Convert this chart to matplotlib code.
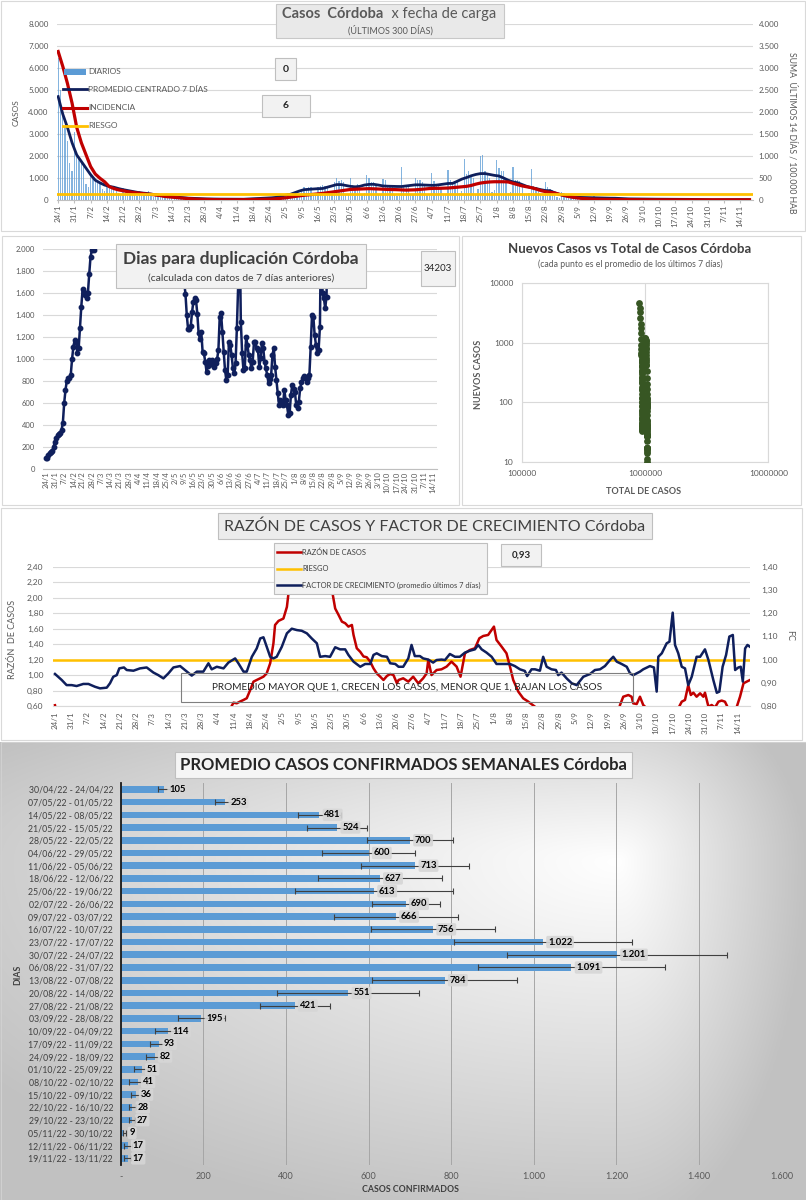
import numpy as np
import matplotlib
matplotlib.use("Agg")
import matplotlib.pyplot as plt
from matplotlib.patches import Rectangle
from matplotlib.lines import Line2D
from matplotlib.ticker import FuncFormatter, NullLocator

plt.rcParams['font.family'] = ['Lato', 'DejaVu Sans']

# ---------------- DATA ----------------
date_labels = ['24/1', '31/1', '7/2', '14/2', '21/2', '28/2', '7/3', '14/3', '21/3', '28/3',
               '4/4', '11/4', '18/4', '25/4', '2/5', '9/5', '16/5', '23/5', '30/5', '6/6',
               '13/6', '20/6', '27/6', '4/7', '11/7', '18/7', '25/7', '1/8', '8/8', '15/8',
               '22/8', '29/8', '5/9', '12/9', '19/9', '26/9', '3/10', '10/10', '17/10', '24/10',
               '31/10', '7/11', '14/11']

# daily cases (day 0 = 24/1)
daily = [6450, 5000, 3900, 3300, 2700, 1700, 1300,
         3100, 2050, 1950, 1800, 1600, 750, 600,
         1200, 950, 900, 850, 750, 500, 400,
         700, 600, 550, 500, 450, 300, 250,
         550, 450, 420, 380, 350, 250, 200,
         400, 350, 380, 300, 430, 200, 150,
         250, 230, 200, 180, 160, 100, 80,
         150, 140, 120, 110, 100, 60, 50,
         100, 90, 85, 80, 70, 40, 35,
         70, 65, 60, 55, 50, 30, 25,
         55, 50, 45, 45, 40, 25, 20,
         45, 40, 40, 35, 30, 20, 15,
         60, 70, 75, 80, 70, 35,
         45, 115, 135, 125, 140, 120, 55,
         120, 260, 300, 290, 320, 320, 160,
         250, 520, 600, 560, 600, 580, 260,
         260, 600, 640, 700, 620, 620, 230,
         300, 800, 1000, 850, 900, 800, 250,
         280, 1000, 700, 650, 750, 600, 220,
         300, 1150, 1000, 800, 800, 700, 241,
         250, 950, 900, 700, 700, 650, 239,
         200, 250, 1500, 700, 700, 650, 291,
         250, 1000, 900, 900, 800, 700, 280,
         260, 1250, 850, 700, 750, 600, 252,
         280, 1350, 900, 800, 850, 800, 312,
         400, 1850, 1200, 1300, 1150, 1000, 254,
         500, 2000, 2050, 1300, 1200, 1000, 357,
         450, 1800, 1450, 1300, 1300, 1000, 337,
         350, 1500, 900, 900, 850, 700, 288,
         250, 300, 1400, 650, 600, 450, 207,
         200, 800, 600, 500, 450, 250, 147,
         100, 350, 300, 250, 200, 100, 65,
         50, 200, 180, 150, 120, 60, 38,
         40, 170, 150, 120, 100, 40, 31,
         35, 150, 130, 110, 90, 35, 24,
         20, 90, 80, 70, 60, 20, 17,
         15, 80, 70, 50, 40, 15, 17,
         15, 20, 80, 60, 50, 15, 12,
         10, 50, 45, 40, 30, 12, 9,
         10, 50, 40, 35, 30, 15, 9,
         5, 15, 10, 10, 12, 8, 3,
         5, 30, 25, 20, 20, 12, 7,
         5, 30, 25, 20, 22, 10, 7]

# 7-day centred average, read every 2 days (days 0, 2, ..., 298)
avg_days = list(range(0, 300, 2))
avg7 = [4700, 3900, 3300, 2600, 2050, 1750, 1450, 1150, 900, 780,
        680, 620, 580, 520, 470, 430, 390, 350, 320, 300,
        270, 240, 210, 180, 160, 140, 120, 100, 85, 75,
        65, 55, 50, 45, 42, 40, 38, 36, 34, 33,
        35, 45, 55, 60, 70, 85, 100, 120, 170, 220,
        255, 330, 410, 470, 485, 500, 515, 524, 580, 640,
        700, 700, 660, 620, 600, 620, 680, 710, 713, 680,
        640, 627, 620, 615, 613, 640, 670, 690, 690, 680,
        670, 666, 690, 720, 750, 756, 850, 950, 1020, 1100,
        1160, 1200, 1201, 1160, 1120, 1091, 1000, 900, 820, 784,
        700, 620, 560, 520, 470, 430, 420, 330, 260, 200,
        170, 140, 120, 114, 105, 98, 93, 90, 86, 82,
        80, 70, 60, 51, 48, 45, 42, 41, 39, 37,
        36, 33, 30, 28, 28, 27, 27, 27, 22, 15,
        10, 9, 11, 14, 17, 17, 17, 17, 17, 17]

# incidence (sum last 14 days / 100.000 hab), same days as avg_days
incid = [3375, 3035, 2650, 2200, 1650, 1300, 1030, 760, 590, 495,
         415, 305, 260, 230, 210, 190, 175, 160, 150, 135,
         128, 115, 100, 80, 70, 60, 50, 40, 33, 25,
         18, 15, 12, 10, 8, 7, 6, 6, 6, 6,
         7, 8, 10, 12, 14, 16, 20, 28, 38, 48,
         65, 80, 95, 108, 118, 128, 138, 150, 165, 178,
         195, 210, 225, 240, 245, 250, 255, 258, 255, 250,
         245, 240, 238, 235, 230, 225, 228, 232, 240, 250,
         260, 265, 265, 268, 272, 280, 290, 300, 310, 330,
         360, 385, 400, 410, 415, 415, 415, 410, 380, 350,
         320, 300, 280, 250, 215, 190, 175, 160, 130, 105,
         80, 60, 45, 35, 28, 22, 18, 15, 13, 12,
         11, 10, 9, 8, 7, 6, 6, 5, 5, 5,
         5, 5, 5, 5, 5, 5, 4, 4, 4, 4,
         4, 4, 4, 4, 4, 4, 4, 4, 4, 4]
riesgo_incid = 130

# doubling days
dup_days1 = list(range(0, 38))
dup1 = [100, 106, 130, 145, 155, 167, 206, 251, 282, 312,
        320, 330, 360, 420, 600, 720, 803, 833, 827, 858,
        1003, 1115, 1176, 1160, 1055, 1100, 1288, 1479, 1639, 1615,
        1580, 1555, 1600, 1773, 1933, 1990, 2150, 1994]
dup_days2 = list(range(104, 215))
dup2 = [2400, 1706, 1594, 1403, 1273, 1273, 1300, 1427, 1524, 1555,
        1540, 1412, 1236, 1185, 1251, 1070, 1055, 979, 888, 940,
        994, 979, 990, 950, 933, 964, 1000, 1085, 1388, 1418,
        1251, 1070, 903, 812, 858, 1160, 1130, 1039, 918, 873,
        964, 1282, 1676, 2300, 1342, 1055, 903, 918, 1206, 1130,
        1039, 994, 918, 979, 1160, 1160, 1100, 1085, 933, 1009,
        1145, 1100, 979, 918, 858, 782, 820, 858, 1039, 1100,
        933, 812, 691, 585, 630, 600, 585, 721, 630, 585,
        494, 509, 676, 767, 730, 706, 585, 555, 615, 736,
        790, 827, 852, 842, 797, 830, 858, 1115, 1403, 1388,
        1221, 1130, 1055, 1085, 1297, 2400, 1600, 1555, 1464, 1570,
        2400]
dup_box = "34203"

# scatter: cumulative total at day 0
total_base = 893000

# razon de casos
razon_day = [0, 1, 75, 76.1, 76.9, 78.3, 79.7, 81.2, 82.6, 84.1,
             85.5, 86.9, 88.4, 89.8, 91.2, 92.7, 94.1, 94.8, 96.3, 98.4,
             99.9, 100.6, 101.3, 103, 108, 114, 118, 119.3, 120.7, 122.1,
             123.6, 125, 126.4, 127.9, 128.6, 130, 131.5, 132.9, 134.3, 135.8,
             137.2, 138.6, 140.1, 141.5, 143, 144.4, 145.8, 147.3, 148, 150,
             152.2, 154.3, 156.5, 158.6, 160.1, 160.8, 162.2, 164.4, 166.5, 168.7,
             170.8, 173, 174.7, 176.6, 178.7, 180.9, 182.8, 184.5, 186.6, 188.1,
             189.1, 190.2, 192.4, 194.5, 196, 197.4, 199.6, 201.7, 203.9, 206.8,
             208, 242, 243.4, 244.8, 247, 248.4, 249.1, 250.6, 252, 253.4,
             254.9, 256, 267, 268.5, 270, 271.4, 272.8, 273.9, 275, 276.4,
             277.9, 279.3, 280, 281.5, 282.9, 284.3, 285.8, 287.2, 288.6, 290,
             291.5, 293.7, 295.1, 296.6, 298, 299.4]
razon = [0.61, 0.45, 0.45, 0.60, 0.643, 0.635, 0.657, 0.678, 0.70, 0.807,
         0.915, 0.936, 0.958, 0.979, 1.022, 1.152, 1.41, 1.647, 1.70, 1.73,
         1.88, 2.06, 2.45, 2.9, 3.2, 2.9, 2.5, 2.10, 1.86, 1.78,
         1.69, 1.67, 1.626, 1.647, 1.518, 1.346, 1.30, 1.24, 1.23, 1.173,
         1.087, 1.022, 0.979, 0.936, 0.988, 1.014, 1.00, 0.893, 0.936, 0.958,
         0.915, 0.979, 0.893, 0.958, 1.022, 1.195, 1.0, 1.065, 1.074, 1.109,
         1.173, 1.109, 0.979, 1.281, 1.324, 1.346, 1.475, 1.505, 1.518, 1.583,
         1.626, 1.453, 1.367, 1.281, 1.109, 0.936, 0.785, 0.699, 0.656, 0.59,
         0.45, 0.45, 0.613, 0.72, 0.742, 0.72, 0.634, 0.626, 0.72, 0.613,
         0.57, 0.45, 0.45, 0.57, 0.656, 0.678, 0.87, 0.742, 0.772, 0.72,
         0.764, 0.72, 0.772, 0.59, 0.613, 0.58, 0.656, 0.67, 0.656, 0.57,
         0.55, 0.59, 0.72, 0.893, 0.915, 0.936]
riesgo_razon = 1.2

# factor de crecimiento (promedio 7 dias)
fc_day = [0, 2.9, 5, 7.2, 9.3, 12.2, 14.4, 17.2, 19.4, 22.3,
          23.7, 25.1, 26.6, 27.7, 29.7, 30.9, 33.8, 36.6, 39.5, 42.4,
          44.5, 46.7, 48.9, 51, 53.9, 56, 58.9, 61.1, 63.9, 66.1,
          67.5, 69.7, 72.6, 74.7, 77.6, 79, 81.2, 82.6, 84.8, 86.9,
          88.4, 89.8, 91.2, 92.7, 94.1, 95.5, 97.7, 99.9, 102, 104.2,
          106.3, 108.5, 110.6, 112.8, 114.2, 116.4, 118.5, 120.7, 122.8, 125,
          126.4, 128.6, 131.5, 133.6, 135.8, 137.2, 138.6, 140.8, 143, 144.4,
          146.6, 148, 150, 152.2, 153.6, 155, 157.2, 158.6, 160.8, 162.9,
          164.4, 166.5, 168, 170.1, 172.3, 174.4, 176.6, 178.7, 180.9, 182.3,
          183.8, 185.9, 188.1, 190.2, 193.1, 196, 198.1, 200.3, 202.4, 203.4,
          205.3, 206.8, 208.9, 210.3, 211.8, 213.9, 215.8, 216.8, 218.2, 220.4,
          222.6, 224.7, 227.6, 230.5, 232.6, 234.8, 236.9, 239.1, 240.5, 242,
          244.1, 246.3, 247.7, 249.1, 250.6, 252, 253.4, 256.3, 258, 259.2,
          259.9, 261.4, 263.5, 264.7, 266.1, 267.1, 268.5, 270, 271.4, 272.8,
          274.3, 276.4, 277.9, 280, 281.5, 283.6, 285.1, 286.2, 287.6, 289.1,
          290.5, 292, 293, 294.4, 295.4, 296.3, 297.3, 298.3, 299.4]
fc = [.938, .912, .890, .890, .886, .895, .895, .883, .876, .879,
      .898, .926, .933, .962, .966, .955, .952, .962, .966, .944,
      .933, .919, .941, .966, .972, .955, .931, .948, .948, .984,
      .958, .969, .962, .987, 1.005, .984, .948, .948, 1.012, 1.048,
      1.091, 1.096, 1.055, 1.012, 1.005, 1.012, 1.055, 1.113, 1.133, 1.127,
      1.124, 1.113, 1.091, 1.070, 1.012, 1.015, 1.012, 1.053, 1.044, 1.044,
      1.02, .991, .969, .981, .981, 1.02, 1.027, 1.015, 1.012, .984,
      .981, .969, .969, 1.005, 1.063, 1.015, 1.015, 1.005, 1.0, .987,
      .998, 1.0, .998, 1.024, 1.012, 1.012, 1.030, 1.038, 1.044, 1.063,
      1.044, 1.030, 1.012, .981, .981, .981, .972, .958, .951, .929,
      .958, .958, .952, 1.012, .969, .958, .955, .933, .944, .919,
      .898, .890, .926, .938, .955, .958, .972, .998, 1.012, .991,
      .981, .969, .941, .933, .941, .948, .958, .972, .966, .862,
      1.012, 1.027, 1.070, 1.077, 1.202, 1.063, 1.027, .969, .962, .890,
      .926, 1.012, 1.012, 1.044, .998, .912, .857, .862, .969, 1.020,
      1.099, 1.106, .955, .966, .969, .905, 1.048, 1.063, 1.055]
fc_box = "0,93"

# weekly averages
week_labels = ['30/04/22 - 24/04/22', '07/05/22 - 01/05/22', '14/05/22 - 08/05/22',
               '21/05/22 - 15/05/22', '28/05/22 - 22/05/22', '04/06/22 - 29/05/22',
               '11/06/22 - 05/06/22', '18/06/22 - 12/06/22', '25/06/22 - 19/06/22',
               '02/07/22 - 26/06/22', '09/07/22 - 03/07/22', '16/07/22 - 10/07/22',
               '23/07/22 - 17/07/22', '30/07/22 - 24/07/22', '06/08/22 - 31/07/22',
               '13/08/22 - 07/08/22', '20/08/22 - 14/08/22', '27/08/22 - 21/08/22',
               '03/09/22 - 28/08/22', '10/09/22 - 04/09/22', '17/09/22 - 11/09/22',
               '24/09/22 - 18/09/22', '01/10/22 - 25/09/22', '08/10/22 - 02/10/22',
               '15/10/22 - 09/10/22', '22/10/22 - 16/10/22', '29/10/22 - 23/10/22',
               '05/11/22 - 30/10/22', '12/11/22 - 06/11/22', '19/11/22 - 13/11/22']
week_avg = [105, 253, 481, 524, 700, 600, 713, 627, 613, 690, 666, 756, 1022, 1201, 1091,
            784, 551, 421, 195, 114, 93, 82, 51, 41, 36, 28, 27, 9, 17, 17]
week_err = [14, 24, 53, 72, 105, 112, 131, 150, 192, 82, 150, 150, 215, 267, 226,
            175, 172, 85, 57, 30, 23, 20, 18, 22, 12, 8, 7, 3, 10, 9]
bar_xticks = ['-', '200', '400', '600', '800', '1.000', '1.200', '1.400', '1.600']

# ---------------- STYLE ----------------
NAVY = '#0f1f5c'
RED = '#c00000'
ORANGE = '#ffc000'
BLUE = '#5B9BD5'
GREEN = '#375623'
TXT = '#595959'
GRID = '#d9d9d9'

W, H = 806, 1200
fig = plt.figure(figsize=(W / 100, H / 100), dpi=100)
fig.patch.set_facecolor('white')


def ax_px(x0, y0, x1, y1):
    return fig.add_axes([x0 / W, 1 - y1 / H, (x1 - x0) / W, (y1 - y0) / H])


def rect_px(x0, y0, x1, y1, fc='#efefef', ec='#bfbfbf', lw=0.8, z=10):
    r = Rectangle((x0 / W, 1 - y1 / H), (x1 - x0) / W, (y1 - y0) / H,
                  transform=fig.transFigure, facecolor=fc, edgecolor=ec,
                  linewidth=lw, zorder=z)
    fig.add_artist(r)
    return r


def text_px(x, y, s, **kw):
    kw.setdefault('zorder', 11)
    kw.setdefault('color', TXT)
    return fig.text(x / W, 1 - y / H, s, **kw)


def line_px(x0, x1, y, color, lw, z=11):
    fig.add_artist(Line2D([x0 / W, x1 / W], [1 - y / H, 1 - y / H],
                          transform=fig.transFigure, color=color, lw=lw, zorder=z))


def fmt_dot(v, pos=None):
    return f"{int(round(v)):,}".replace(',', '.')


def fmt_comma(v, pos=None):
    return f"{v:.2f}".replace('.', ',')


tick_pos = np.arange(0, 7 * len(date_labels), 7)
days = np.arange(len(daily))

# panel frames
rect_px(1, 1, 805, 231, fc='white', ec=GRID, z=-1)
rect_px(2, 236, 459, 505, fc='white', ec=GRID, z=-1)
rect_px(462, 236, 801, 505, fc='white', ec=GRID, z=-1)
rect_px(1, 508, 802, 740, fc='white', ec=GRID, z=-1)

# ================= TOP CHART =================
ax1 = ax_px(57, 24, 753, 200)
ax1.set_facecolor('none')
ax1.bar(days, daily, width=0.55, color=BLUE, alpha=0.75, linewidth=0, zorder=2)
ax1.plot(avg_days, avg7, color=NAVY, lw=2.0, zorder=4)
ax1.set_xlim(-0.5, 299.5)
ax1.set_ylim(0, 8000)
ax1.set_yticks(np.arange(0, 8001, 1000))
ax1.yaxis.set_major_formatter(FuncFormatter(fmt_dot))
ax1.grid(axis='y', color=GRID, lw=0.8)
ax1.set_axisbelow(True)
for s in ['top', 'right', 'left']:
    ax1.spines[s].set_visible(False)
ax1.spines['bottom'].set_color('#bfbfbf')
ax1.set_xticks(tick_pos)
ax1.set_xticklabels(date_labels, rotation=90, fontsize=5.8, color=TXT)
ax1.tick_params(axis='y', length=0, labelsize=5.8, labelcolor=TXT, pad=6)
ax1.tick_params(axis='x', length=2, color='#bfbfbf', pad=1.5)

ax1r = ax1.twinx()
ax1r.plot(avg_days, incid, color=RED, lw=2.3, zorder=3)
ax1r.axhline(riesgo_incid, color=ORANGE, lw=2.0, zorder=5)
ax1r.set_ylim(0, 4000)
ax1r.set_yticks(np.arange(0, 4001, 500))
ax1r.yaxis.set_major_formatter(FuncFormatter(fmt_dot))
for s in ['top', 'right', 'left', 'bottom']:
    ax1r.spines[s].set_visible(False)
ax1r.tick_params(axis='y', length=0, labelsize=5.8, labelcolor=TXT, pad=4)

text_px(16, 113, 'CASOS', rotation=90, ha='center', va='center', fontsize=6)
text_px(792, 133, 'SUMA  ÚLTIMOS 14 DÍAS / 100.000 HAB', rotation=-90,
        ha='center', va='center', fontsize=6.2)

# legend
rect_px(64, 68.5, 86, 74.5, fc=BLUE, ec='none', z=11)
line_px(63, 87, 89.3, NAVY, 2.0)
line_px(63, 87, 107.7, RED, 2.2)
line_px(63, 87, 125.7, ORANGE, 2.0)
for yy, lab in [(71.5, 'DIARIOS'), (89.3, 'PROMEDIO CENTRADO 7 DÍAS'),
                (107.7, 'INCIDENCIA'), (125.7, 'RIESGO')]:
    text_px(88, yy, lab, ha='left', va='center', fontsize=6)

# title box
rect_px(276, 4, 504, 38, fc='#e9e9e9', ec='#c8c8c8')
renderer = fig.canvas.get_renderer()
t1 = text_px(0, 14, 'Casos  Córdoba', fontweight='bold', fontsize=10.5, ha='left', va='center')
t2 = text_px(0, 14, '  x fecha de carga', fontsize=10.5, ha='left', va='center')
w1 = t1.get_window_extent(renderer).width
w2 = t2.get_window_extent(renderer).width
x_start = 389 - (w1 + w2) / 2
t1.set_x(x_start / W)
t2.set_x((x_start + w1) / W)
text_px(390, 30, '(ÚLTIMOS 300 DÍAS)', ha='center', va='center', fontsize=6.5)

rect_px(275, 58, 296, 80, fc='#f2f2f2', ec='#bfbfbf')
text_px(285.5, 69, '0', ha='center', va='center', fontsize=7.5, fontweight='bold', color='#262626')
rect_px(262, 95, 310, 117, fc='#f2f2f2', ec='#bfbfbf')
text_px(286, 106, '6', ha='center', va='center', fontsize=7.5, fontweight='bold', color='#262626')

# ================= DOUBLING =================
ax2 = ax_px(43, 249.3, 437, 469.3)
ax2.set_facecolor('none')
ax2.plot(dup_days1, dup1, '-o', color=NAVY, lw=1.8, ms=3.2)
ax2.plot(dup_days2, dup2, '-o', color=NAVY, lw=1.8, ms=3.2)
ax2.set_xlim(-2.05, 296.8)
ax2.set_ylim(0, 2000)
ax2.set_yticks(np.arange(0, 2001, 200))
ax2.yaxis.set_major_formatter(FuncFormatter(fmt_dot))
ax2.grid(axis='y', color=GRID, lw=0.8)
ax2.set_axisbelow(True)
for s in ['top', 'right', 'left']:
    ax2.spines[s].set_visible(False)
ax2.spines['bottom'].set_color('#bfbfbf')
ax2.set_xticks(tick_pos)
ax2.set_xticklabels(date_labels, rotation=90, fontsize=5.5, color=TXT)
ax2.tick_params(axis='y', length=0, labelsize=5.5, labelcolor=TXT, pad=6)
ax2.tick_params(axis='x', length=0, pad=1.5)

rect_px(116, 244, 366, 288, fc='#f2f2f2', ec='#bfbfbf')
text_px(241, 259, 'Dias para duplicación Córdoba', ha='center', va='center',
        fontsize=12.5, fontweight='bold', color='#404040')
text_px(241, 278, '(calculada con datos de 7 días anteriores)', ha='center', va='center',
        fontsize=7.5, color='#404040')
rect_px(421, 251, 455, 286, fc='#f2f2f2', ec='#bfbfbf')
text_px(438, 268.5, dup_box, ha='center', va='center', fontsize=7, color='#262626')

# ================= SCATTER =================
ax3 = ax_px(521.7, 283.3, 768.3, 461.7)
ax3.set_facecolor('none')
totals = total_base + np.cumsum(daily)[avg_days]
ax3.scatter(totals, avg7, s=24, color=GREEN, linewidths=0, zorder=3)
ax3.set_xscale('log')
ax3.set_yscale('log')
ax3.set_xlim(1e5, 1e7)
ax3.set_ylim(10, 1e4)
ax3.set_xticks([1e5, 1e6, 1e7])
ax3.set_xticklabels(['100000', '1000000', '10000000'])
ax3.set_yticks([10, 100, 1000, 10000])
ax3.set_yticklabels(['10', '100', '1000', '10000'])
ax3.xaxis.set_minor_locator(NullLocator())
ax3.yaxis.set_minor_locator(NullLocator())
ax3.grid(True, color=GRID, lw=0.8)
ax3.set_axisbelow(True)
for s in ax3.spines.values():
    s.set_color(GRID)
ax3.tick_params(length=0, labelsize=6, labelcolor=TXT, pad=6)
text_px(630, 249, 'Nuevos Casos vs Total de Casos Córdoba', ha='center', va='center',
        fontsize=9.5, fontweight='bold', color='#404040')
text_px(630, 264, '(cada punto es el promedio de los últimos 7 días)', ha='center',
        va='center', fontsize=6.2)
text_px(644, 491, 'TOTAL DE CASOS', ha='center', va='center', fontsize=6.5,
        fontweight='bold')
text_px(478, 374, 'NUEVOS CASOS', ha='center', va='center', fontsize=6.5,
        fontweight='bold', rotation=90)

# ================= RAZON / FC =================
ax4 = ax_px(53, 566.7, 750, 706)
ax4.set_facecolor('none')
ax4.plot(razon_day, razon, color=RED, lw=1.8, zorder=3)
ax4.axhline(riesgo_razon, color=ORANGE, lw=1.8, zorder=2)
ax4.set_xlim(-0.86, 299.4)
ax4.set_ylim(0.6, 2.4)
ax4.set_yticks(np.arange(0.6, 2.41, 0.2))
ax4.yaxis.set_major_formatter(FuncFormatter(fmt_comma))
ax4.grid(axis='y', color=GRID, lw=0.8)
ax4.set_axisbelow(True)
for s in ['top', 'right', 'left']:
    ax4.spines[s].set_visible(False)
ax4.spines['bottom'].set_color(GRID)
ax4.set_xticks(tick_pos)
ax4.set_xticklabels(date_labels, rotation=90, fontsize=5.8, color=TXT)
ax4.tick_params(axis='y', length=0, labelsize=6, labelcolor=TXT, pad=7)
ax4.tick_params(axis='x', length=0, pad=4)

ax4r = ax4.twinx()
ax4r.plot(fc_day, fc, color=NAVY, lw=1.8, zorder=4)
ax4r.set_ylim(0.8, 1.4)
ax4r.set_yticks(np.arange(0.8, 1.41, 0.1))
ax4r.yaxis.set_major_formatter(FuncFormatter(fmt_comma))
for s in ['top', 'right', 'left', 'bottom']:
    ax4r.spines[s].set_visible(False)
ax4r.tick_params(axis='y', length=0, labelsize=6, labelcolor=TXT, pad=8)

text_px(13, 639, 'RAZÓN  DE CASOS', rotation=90, ha='center', va='center', fontsize=6.5)
text_px(790, 636, 'FC', rotation=-90, ha='center', va='center', fontsize=6.5)

rect_px(218, 513, 652, 539, fc='#ececec', ec='#bfbfbf')
text_px(435, 526.5, 'RAZÓN DE CASOS Y FACTOR DE CRECIMIENTO Córdoba', ha='center',
        va='center', fontsize=11.5, color='#404040')
rect_px(274, 543, 487, 594, fc='#f2f2f2', ec='#bfbfbf')
for yy, col, lab in [(552, RED, 'RAZÓN DE CASOS'), (568.5, ORANGE, 'RIESGO'),
                     (585, NAVY, 'FACTOR DE CRECIMIENTO (promedio últimos 7 días)')]:
    line_px(277, 301, yy, col, 1.8)
    text_px(302, yy, lab, ha='left', va='center', fontsize=5.4, color='#404040')
rect_px(501, 544, 541, 566, fc='#f2f2f2', ec='#bfbfbf')
text_px(521, 555, fc_box, ha='center', va='center', fontsize=7, fontweight='bold',
        color='#262626')
rect_px(181, 673, 633, 702, fc='none', ec='#7f7f7f', lw=0.8)
text_px(407, 688, 'PROMEDIO MAYOR QUE 1, CRECEN LOS CASOS, MENOR QUE 1, BAJAN LOS CASOS',
        ha='center', va='center', fontsize=7.2, color='#262626')

# ================= WEEKLY BARS =================
ax_bg = ax_px(0, 742, 806, 1200)
ax_bg.set_zorder(-5)
gx = np.linspace(0, 806, 240)
gy = np.linspace(742, 1200, 140)
GX, GY = np.meshgrid(gx, gy)
cx, cy = 620, 860
u = np.where(GX < cx, (GX - cx) / (cx * 1.25), (GX - cx) / (806 - cx))
v = np.where(GY < cy, (GY - cy) / ((cy - 742) * 1.6), (GY - cy) / ((1200 - cy) * 1.1))
t = np.clip(np.sqrt(u ** 2 + v ** 2), 0, 1)
g = 1.0 - 0.24 * t
ax_bg.imshow(np.dstack([g, g, g]), extent=[0, 806, 1200, 742], origin='upper',
             aspect='auto', interpolation='bilinear')
ax_bg.set_xlim(0, 806)
ax_bg.set_ylim(1200, 742)
ax_bg.axis('off')
rect_px(0.5, 742, 805.5, 1199.5, fc='none', ec='#d0d0d0', z=-1)

ax5 = ax_px(120.7, 783, 781.7, 1164.7)
ax5.set_zorder(1)
ax5.set_facecolor('none')
ypos = np.arange(len(week_avg))
ax5.barh(ypos, week_avg, height=0.52, color=BLUE, zorder=2)
ax5.errorbar(week_avg, ypos, xerr=week_err, fmt='none', ecolor='#404040',
             elinewidth=0.8, capsize=2.2, capthick=0.8, zorder=3)
for i, val in enumerate(week_avg):
    ax5.annotate(fmt_dot(val), (val, i), xytext=(5, 0), textcoords='offset pixels',
                 ha='left', va='center', fontsize=6.8, fontweight='bold', color='black',
                 zorder=5,
                 bbox=dict(boxstyle='round,pad=0.18', fc='#d6d6d6', ec='none', alpha=0.9))
ax5.set_xlim(0, 1600)
ax5.set_ylim(len(week_avg) - 0.5, -0.5)
ax5.set_xticks(np.arange(0, 1601, 200))
ax5.set_xticklabels(bar_xticks)
ax5.set_yticks(ypos)
ax5.set_yticklabels(week_labels)
ax5.grid(axis='x', color='#a6a6a6', lw=0.7)
ax5.set_axisbelow(True)
for s in ['top', 'right', 'bottom']:
    ax5.spines[s].set_visible(False)
ax5.spines['left'].set_color('#1a1a1a')
ax5.spines['left'].set_linewidth(1.3)
ax5.tick_params(axis='y', length=0, labelsize=6.3, labelcolor='#404040', pad=5.5)
ax5.tick_params(axis='x', length=0, labelsize=6.5, labelcolor='#595959', pad=5)

rect_px(175, 752, 632, 778, fc='#f5f5f5', ec='#bfbfbf')
text_px(403, 765.5, 'PROMEDIO CASOS CONFIRMADOS SEMANALES Córdoba', ha='center',
        va='center', fontsize=12, fontweight='bold', color='#262626')
text_px(410, 1190, 'CASOS CONFIRMADOS', ha='center', va='center', fontsize=6.3,
        fontweight='bold', color='#404040')
text_px(18, 975, 'DIAS', ha='center', va='center', fontsize=6.3, fontweight='bold',
        rotation=90, color='#404040')

fig.savefig('out.png', dpi=100, facecolor='white')
